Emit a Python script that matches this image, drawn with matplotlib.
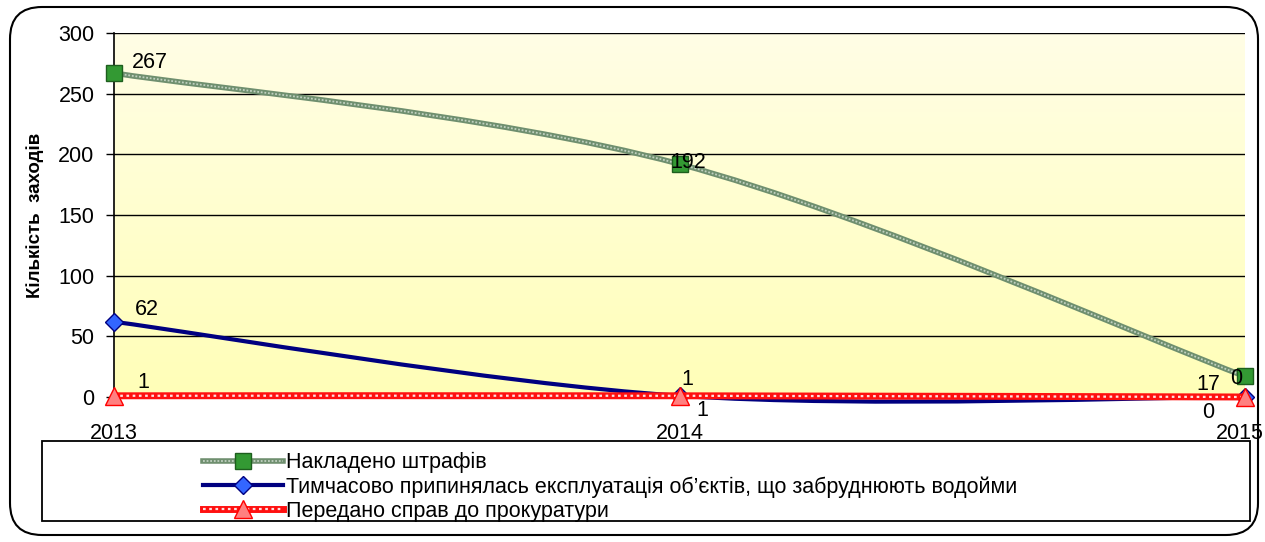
import matplotlib
matplotlib.use("Agg")
import matplotlib.pyplot as plt
import numpy as np
from matplotlib.path import Path
from matplotlib.patches import PathPatch, FancyBboxPatch, Rectangle
from matplotlib.lines import Line2D
from matplotlib.transforms import IdentityTransform, ScaledTranslation

plt.rcParams['font.family'] = ['Liberation Sans', 'DejaVu Sans']

years = ['2013', '2014', '2015']
fines = [267, 192, 17]
suspended = [62, 1, 0]
prosecutor = [1, 1, 0]
names = ["Накладено штрафів",
         "Тимчасово припинялась експлуатація об’єктів, що забруднюють водойми",
         "Передано справ до прокуратури"]


def smooth_path(xs, ys):
    # excel-like smoothed line: bezier segments, catmull-rom control points
    pts = np.column_stack([xs, ys]).astype(float)
    n = len(pts)
    verts = [pts[0]]
    codes = [Path.MOVETO]
    for i in range(n - 1):
        p0 = pts[i - 1] if i > 0 else pts[i]
        p1 = pts[i]
        p2 = pts[i + 1]
        p3 = pts[i + 2] if i + 2 < n else pts[i + 1]
        c1 = p1 + (p2 - p0) / 6.0
        c2 = p2 - (p3 - p1) / 6.0
        verts += [c1, c2, p2]
        codes += [Path.CURVE4] * 3
    return Path(verts, codes)


W, H = 1265, 542
fig = plt.figure(figsize=(W / 100, H / 100), dpi=100)
ax = fig.add_axes([114 / W, (H - 397) / H, (1245 - 114) / W, (397 - 33) / H])

x = np.arange(len(years))

# yellow gradient background
grad = np.linspace(0, 1, 256).reshape(-1, 1)
top = np.array([1.0, 0.995, 0.90])
bot = np.array([1.0, 1.0, 0.72])
img = top[None, None, :] * (1 - grad[:, :, None]) + bot[None, None, :] * grad[:, :, None]
ax.imshow(img, extent=(0, 2, 0, 300), aspect='auto', zorder=0, origin='upper')

ax.set_xlim(0, 2)
ax.set_ylim(0, 300)
ax.set_yticks(np.arange(0, 301, 50))
ax.set_xticks(x)
ax.set_xticklabels(years)
ax.grid(axis='y', color='black', linewidth=1, zorder=1)
ax.set_axisbelow(False)
for s in ['top', 'right', 'bottom']:
    ax.spines[s].set_visible(False)
ax.spines['left'].set_linewidth(1.2)
ax.tick_params(axis='y', length=6, width=1, direction='out', pad=8, labelsize=15.5)
ax.tick_params(axis='x', length=0, pad=19, labelsize=15.5)
ax.set_ylabel("Кількість  заходів", fontsize=13.5, fontweight='bold', labelpad=10)
# last year label sits against the right frame
last = ax.get_xticklabels()[-1]
last.set_transform(last.get_transform() + ScaledTranslation(-5 / 100, 0, fig.dpi_scale_trans))

# green hatched line
g_path = smooth_path(x, fines)
ax.add_patch(PathPatch(g_path, fill=False, edgecolor='#6F8F6F', linewidth=4, zorder=3, clip_on=False))
ax.add_patch(PathPatch(g_path, fill=False, edgecolor='#C0D0C0', linewidth=1.3,
                       linestyle=(0, (1, 1)), zorder=3, clip_on=False))
ax.plot(x, fines, linestyle='none', marker='s', markersize=11.5, markerfacecolor='#339933',
        markeredgecolor='#1E5E1E', markeredgewidth=1, zorder=4, clip_on=False)

# blue line
b_path = smooth_path(x, suspended)
ax.add_patch(PathPatch(b_path, fill=False, edgecolor='#000080', linewidth=3, zorder=3, clip_on=False))
ax.plot(x, suspended, linestyle='none', marker='D', markersize=9, markerfacecolor='#3366FF',
        markeredgecolor='#000080', markeredgewidth=1, zorder=4, clip_on=False)

# red hatched line
r_path = smooth_path(x, prosecutor)
ax.add_patch(PathPatch(r_path, fill=False, edgecolor='#FF1010', linewidth=5, zorder=5, clip_on=False))
ax.add_patch(PathPatch(r_path, fill=False, edgecolor='#FFE0E0', linewidth=1.6,
                       linestyle=(0, (1.2, 1.6)), zorder=5, clip_on=False))
ax.plot(x, prosecutor, linestyle='none', marker='^', markersize=13, markerfacecolor='#FF8080',
        markeredgecolor='#FF0000', markeredgewidth=1, zorder=6, clip_on=False)

# data labels (offsets in pixels)
lbl = dict(textcoords='offset pixels', fontsize=15.5, va='center', zorder=7, annotation_clip=False)
ax.annotate(str(fines[0]), (x[0], fines[0]), xytext=(18, 11), ha='left', **lbl)
ax.annotate(str(fines[1]), (x[1], fines[1]), xytext=(-9, 2), ha='left', **lbl)
ax.annotate(str(fines[2]), (x[2], fines[2]), xytext=(-25, -8), ha='right', **lbl)
ax.annotate(str(suspended[0]), (x[0], suspended[0]), xytext=(21, 12), ha='left', **lbl)
ax.annotate(str(suspended[1]), (x[1], suspended[1]), xytext=(17, -15), ha='left', **lbl)
ax.annotate(str(suspended[2]), (x[2], suspended[2]), xytext=(-9, 19), ha='center', **lbl)
ax.annotate(str(prosecutor[0]), (x[0], prosecutor[0]), xytext=(23, 13), ha='left', **lbl)
ax.annotate(str(prosecutor[1]), (x[1], prosecutor[1]), xytext=(2, 16), ha='left', **lbl)
ax.annotate(str(prosecutor[2]), (x[2], prosecutor[2]), xytext=(-37, -16), ha='center', **lbl)

# outer rounded frame and legend box (pixel coords)
frame = FancyBboxPatch((10, 7), 1248, 528, boxstyle="round,pad=0,rounding_size=32",
                       transform=IdentityTransform(), facecolor='none', edgecolor='black',
                       linewidth=1.5, zorder=10)
fig.add_artist(frame)
lbox = Rectangle((42, H - 521), 1208, 80, transform=IdentityTransform(), facecolor='white',
                 edgecolor='black', linewidth=1.3, zorder=8)
fig.add_artist(lbox)

h1 = (Line2D([], [], color='#6F8F6F', lw=4), Line2D([], [], color='#C0D0C0', lw=1.3, ls=(0, (1, 1))),
      Line2D([], [], ls='none', marker='s', markersize=11.5, markerfacecolor='#339933',
             markeredgecolor='#1E5E1E'))
h2 = (Line2D([], [], color='#000080', lw=3),
      Line2D([], [], ls='none', marker='D', markersize=9, markerfacecolor='#3366FF',
             markeredgecolor='#000080'))
h3 = (Line2D([], [], color='#FF1010', lw=5), Line2D([], [], color='#FFE0E0', lw=1.6, ls=(0, (1.2, 1.6))),
      Line2D([], [], ls='none', marker='^', markersize=13, markerfacecolor='#FF8080',
             markeredgecolor='#FF0000'))
leg = fig.legend([h1, h2, h3], names, loc='upper left',
                 bbox_to_anchor=(203 / W, (H - 452) / H), frameon=False, fontsize=15.5,
                 handlelength=3.7, handletextpad=0.15, labelspacing=0.14, borderpad=0,
                 borderaxespad=0)
leg.set_zorder(9)

fig.savefig("out.png", dpi=100)
